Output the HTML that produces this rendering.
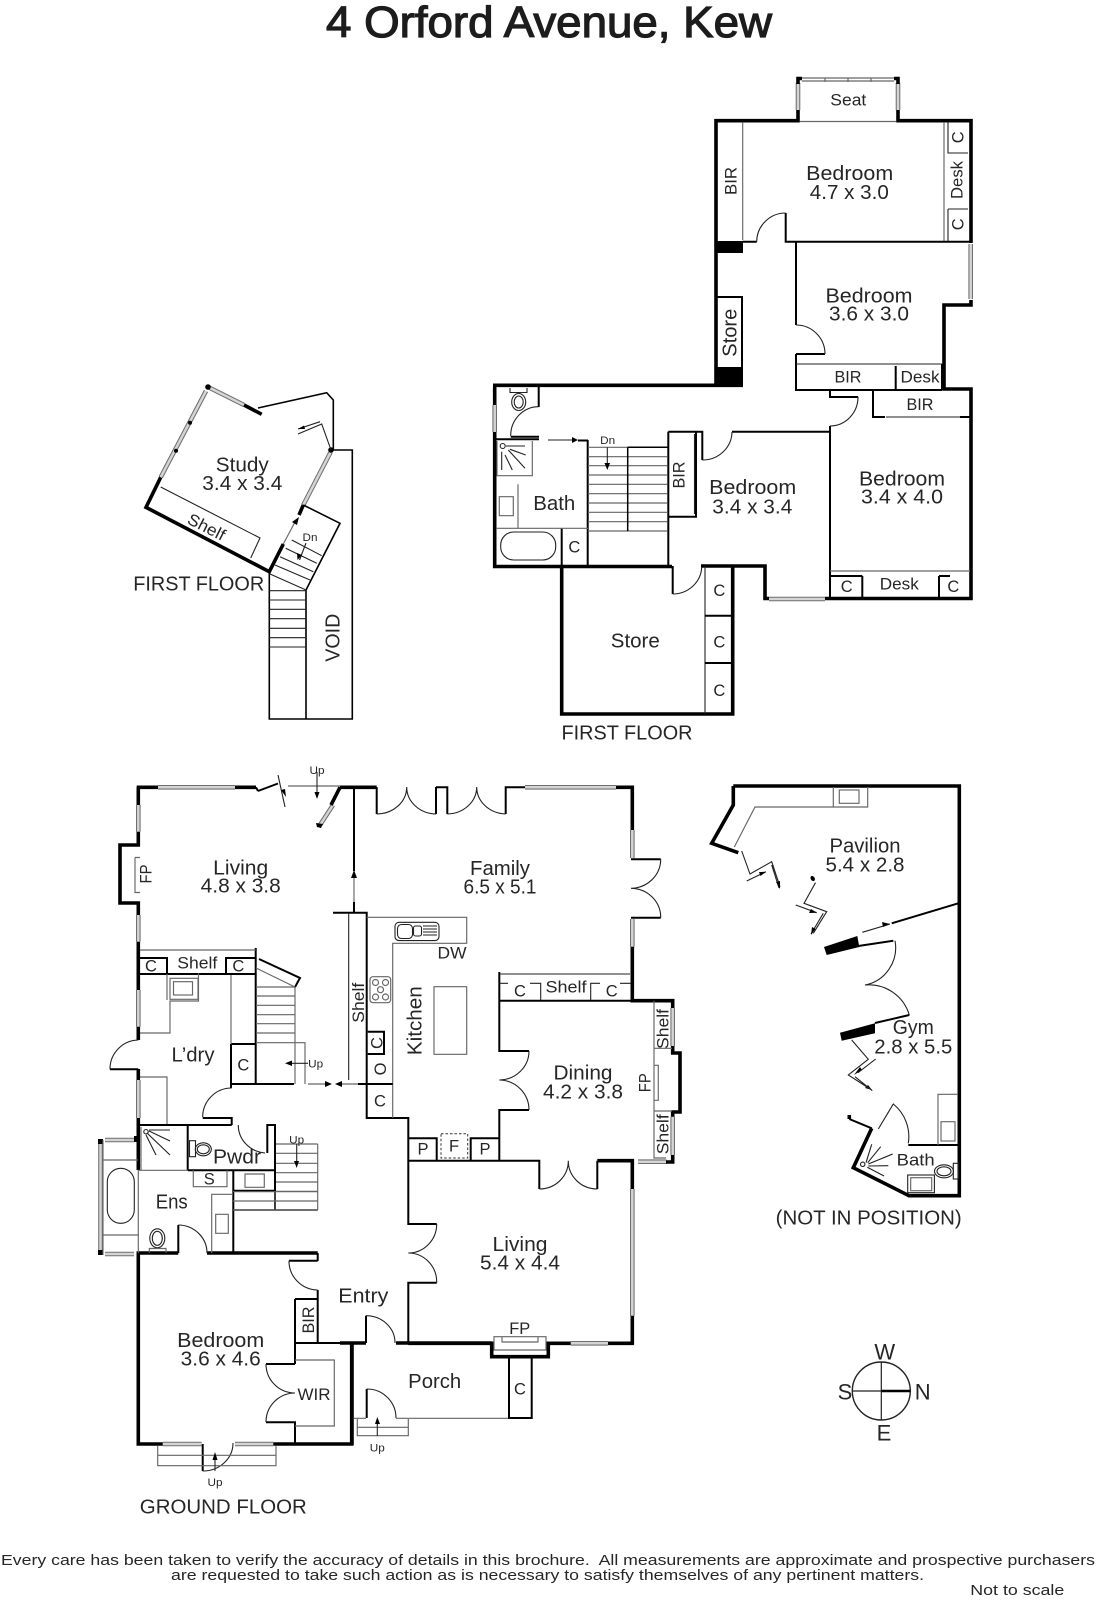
<!DOCTYPE html>
<html><head><meta charset="utf-8"><title>4 Orford Avenue, Kew</title>
<style>
html,body{margin:0;padding:0;background:#fff}
svg{display:block}
text{font-family:"Liberation Sans",sans-serif;fill:#262626;text-anchor:middle}
.w{fill:none;stroke:#000;stroke-width:3.6;stroke-linejoin:miter}
.m{fill:none;stroke:#000;stroke-width:2}
.t{fill:none;stroke:#222;stroke-width:1.1}
.g{fill:none;stroke:#666;stroke-width:1.15}
.l{font-size:20px}.s{font-size:16.5px}.x{font-size:11px}
</style></head><body>
<svg width="1096" height="1600" viewBox="0 0 1096 1600" xmlns="http://www.w3.org/2000/svg">
<defs>
<path id="wn" d="M798,110V83M898,110V83M970.7,244V299M494.7,405V432M769,599H825
M208,387L244,405M206,391L160.7,477.3M303.3,505L330.7,452
M158,787.3H235M138.3,805V831.7M138.3,915V941.7M138.3,990V1026.7M138.3,1080V1118M333,805L320,825
M525,787.3H616M632.3,830V858M632.3,919V946.7M672.7,1008V1046M672.7,1116.7V1155M638,1161.7H666.7
M632.3,1189V1315.7M570.7,1343.3H608M162.7,1444H201.7M235,1444H273.3M105,1140H134M105,1254H134M100.5,1142V1252"/>
</defs>
<rect width="1096" height="1600" fill="#fff"/>
<use href="#wn" fill="none" stroke="#6f6f6f" stroke-width="4.6"/>
<use href="#wn" fill="none" stroke="#d4d4d4" stroke-width="2.5"/>

<!-- TITLE -->
<text x="549" y="37" font-size="44" textLength="446" lengthAdjust="spacingAndGlyphs" style="fill:#1c1c1c;stroke:#1c1c1c;stroke-width:1.2">4 Orford Avenue, Kew</text>

<!-- UPPER FIRST FLOOR -->
<path class="w" d="M493,385.3H743M716,385V120.7H798V110M798,84V78.500H802M894,78.500H898V84M898,110V120.700H971V243M971,300V305H944V389H971V598.500H825M769,598.500H765V566H732.700V714H561.700V566.500H494.700V432M494.700,405V387M561.700,566.500H672M701,566H732"/>
<path d="M716,241H743V253H716ZM716,367H743V387H716Z" fill="#000"/>
<path class="g" d="M802,78H894M802,81H894M825,78V82M848,78V82M871,78V82M800,121.500H896M944,122V241M742.700,122V240"/>
<path class="m" d="M742.700,241.700H756.700M785.700,213V241.700H971M796,241.700V325M796,354H825M796,354V390H942M716,297H742V367M895.700,366V390M942,364V390M873,390V417H885M960,417H970M830,390V397H858M732,431.700H830M830,426V599M668.300,431.700V566M668.300,431.700H702.300V460M668.300,516.700H696V431.700M672.700,566V594"/>
<path class="t" d="M796,364H942M886,417H960M948,122V153H968M948,209V241M948,209H968M785.700,213A29,29 0 0 0 756.700,241.700M796,325A29,29 0 0 1 825,354M858,396.700A28,29 0 0 1 830,426M702.300,460A29.500,28.500 0 0 0 732,432M672.700,594A29,28 0 0 0 701.700,567M705,566V714M694.500,434V514"/>
<path class="m" d="M705,615.700H732M705,663H732M830,576H850M862.300,576V598M850,576H862.300M939,576V598M939,576H950"/>
<path class="g" d="M830,571H970"/>
<!-- bath -->
<path class="m" d="M538.700,386V407M494.700,439.300H539M510.700,436.700H539M578,440.500H588M587.700,440V566M561.700,528V566"/>
<path class="t" d="M538.700,406.700A28,29 0 0 0 510.700,436M548,440H572M510,388V392.500H527V388"/>
<ellipse cx="518.700" cy="402" rx="7" ry="8.500" class="t"/><ellipse cx="518.700" cy="402" rx="4.500" ry="6" class="t"/>
<path d="M578,440L572,437V443Z" fill="#000"/>
<path class="g" d="M497,441V475.700H532.300V441M499.300,496.700V515.700H513.300V496.700ZM518,484.300V528.300M496,528.300H588"/>
<path class="t" d="M501.700,451.700V470M505,455L512.300,470M508.300,450L525,468.300M510,449.300L525.700,455M506,446H525"/>
<circle cx="502.700" cy="446" r="2.500" class="t" style="fill:#fff"/>
<rect x="500.700" y="532" width="55" height="28" rx="13" class="t"/>
<!-- stairs -->
<path class="g" d="M588,447.300H667.700M588,456.700H667.700M588,465.700H667.700M588,475H667.700M588,484.300H667.700M588,493.700H667.700M588,503H667.700M588,512.300H667.700M588,521.700H667.700M588,531H667.700"/>
<path class="m" style="stroke-width:1.500" d="M627.700,447.300V531M627.700,447.300H668"/>
<path class="t" d="M607.300,447.300V466"/><path d="M607.300,470L604.500,463H610Z" fill="#000"/>

<text class="s" x="848.300" y="105.700" textLength="36" lengthAdjust="spacingAndGlyphs">Seat</text>
<text class="l" x="849.700" y="180" textLength="87" lengthAdjust="spacingAndGlyphs">Bedroom</text>
<text class="l" x="849.300" y="199" textLength="79" lengthAdjust="spacingAndGlyphs">4.7 x 3.0</text>
<text class="s" transform="translate(736.300,181) rotate(-90)" textLength="28" lengthAdjust="spacingAndGlyphs">BIR</text>
<text class="s" transform="translate(963.700,137.300) rotate(-90)">C</text>
<text class="s" transform="translate(962.300,180) rotate(-90)" textLength="38" lengthAdjust="spacingAndGlyphs">Desk</text>
<text class="s" transform="translate(963.700,224.300) rotate(-90)">C</text>
<text class="l" x="869" y="302.300" textLength="87" lengthAdjust="spacingAndGlyphs">Bedroom</text>
<text class="l" x="869" y="320.700" textLength="80" lengthAdjust="spacingAndGlyphs">3.6 x 3.0</text>
<text class="l" transform="translate(736.300,332.700) rotate(-90)" textLength="48" lengthAdjust="spacingAndGlyphs">Store</text>
<text class="s" x="848" y="382.700" textLength="27" lengthAdjust="spacingAndGlyphs">BIR</text>
<text class="s" x="920" y="382.700" textLength="39" lengthAdjust="spacingAndGlyphs">Desk</text>
<text class="s" x="920" y="410" textLength="27" lengthAdjust="spacingAndGlyphs">BIR</text>
<text class="x" x="607.700" y="444" textLength="15" lengthAdjust="spacingAndGlyphs">Dn</text>
<text class="s" transform="translate(684.300,475) rotate(-90)" textLength="27" lengthAdjust="spacingAndGlyphs">BIR</text>
<text class="l" x="554.300" y="510" textLength="42" lengthAdjust="spacingAndGlyphs">Bath</text>
<text class="s" x="574.300" y="552.700">C</text>
<text class="l" x="752.700" y="494" textLength="87" lengthAdjust="spacingAndGlyphs">Bedroom</text>
<text class="l" x="752.300" y="513.300" textLength="80" lengthAdjust="spacingAndGlyphs">3.4 x 3.4</text>
<text class="l" x="902" y="485.700" textLength="86" lengthAdjust="spacingAndGlyphs">Bedroom</text>
<text class="l" x="902" y="503.300" textLength="82" lengthAdjust="spacingAndGlyphs">3.4 x 4.0</text>
<text class="s" x="846.700" y="592">C</text>
<text class="s" x="899.300" y="589.300" textLength="39" lengthAdjust="spacingAndGlyphs">Desk</text>
<text class="s" x="953.300" y="592">C</text>
<text class="s" x="719.300" y="596">C</text><text class="s" x="719.300" y="647.300">C</text><text class="s" x="719.300" y="696">C</text>
<text class="l" x="635.300" y="647.300" textLength="49" lengthAdjust="spacingAndGlyphs">Store</text>
<text class="l" x="627" y="739.300" textLength="131" lengthAdjust="spacingAndGlyphs">FIRST FLOOR</text>

<!-- STUDY -->
<path class="w" d="M244,405L261.700,414.300M160.700,477.300L146,507.300L269.300,571.700L283.300,544M299,515L303.300,505"/>
<path class="m" style="stroke-width:1.600" d="M258,408L326.700,392.700L333.300,400V450H352.300V719H269.300V572M306,590V719H269.300M303.300,505L340,523.300L306,590"/>
<circle cx="208" cy="387" r="2.800" fill="#000"/><circle cx="190" cy="422.700" r="2" fill="#000"/><circle cx="176" cy="450.700" r="2" fill="#000"/><circle cx="331" cy="450" r="2.800" fill="#000"/>
<path class="t" d="M160.700,487L260,538L250.700,558M291.700,540L321.700,555.700M285.700,548.300L316.700,563.300M280,556.700L313.300,571.700M275,565L310,580M270,574L306,590M269,590.700H306M269,600H306M269,609.300H306M269,618.700H306M269,628.300H306M269,637.700H306M269,647H306"/>
<path class="g" d="M283.300,544L295,522"/><path d="M299,517L297,525L292,522Z" fill="#000"/>
<path class="t" d="M306,543L299.500,560M331,450L321.700,424L298,434M320,421.700L298,429"/><path d="M298,429L304,425.500L305,429Z" fill="#000"/><path d="M297.500,560L297,553L302,555Z" fill="#000"/>
<text class="l" x="242.300" y="471.700" textLength="53" lengthAdjust="spacingAndGlyphs">Study</text>
<text class="l" x="242.300" y="490" textLength="80" lengthAdjust="spacingAndGlyphs">3.4 x 3.4</text>
<text class="s" transform="translate(204,532) rotate(27)" textLength="40" lengthAdjust="spacingAndGlyphs">Shelf</text>
<text class="x" x="310" y="541" textLength="15" lengthAdjust="spacingAndGlyphs">Dn</text>
<text class="l" x="198.700" y="590.700" textLength="131" lengthAdjust="spacingAndGlyphs">FIRST FLOOR</text>
<text class="l" transform="translate(339.300,637.700) rotate(-90)" textLength="48" lengthAdjust="spacingAndGlyphs">VOID</text>

<!-- GROUND FLOOR WALLS -->
<path class="w" d="M158,787.300H136.700M235,787.300H256M138.300,787.300V805M138.300,831.700V845H120V903H138.300V915M138.300,941.700V990M138.300,1026.700V1040M138.300,1069V1080M138.300,1118V1170M178.300,1253H138.300V1444H162.700M273.300,1444H351.700V1343M340,787.300H376.700M340,787.300L331,805M616,787.300H632.300V830M632.300,946.700V1000.700H672.700V1008M672.700,1046V1053H680V1112H672.700V1116.700M672.700,1155V1162H666M408.300,1343.300H491.700V1356.700H548.300V1343.300H570.700M608,1343.300H632.300V1315.700M632.300,1189V1160.700H597.300M352,1343V1445M340,1343H366M396,1343H491.700M207,1253H317.700"/>
<path class="m" d="M354,787V871M354,902V912.700M333,912.700H366.700V1118H408.300V1224H436.700M436.700,1282.700H408.300V1343M376.700,787V814M436,787V814M436,787.300H447.300V814M505.700,814V787.300H525M631,859.300H660.700M631,917.700H660.700M499.300,972V1051H529M529,1110H499.300V1161M408.300,1160.700H539.300V1189M597.300,1189V1160.700M499.300,1000.700H674M138,974H255.700M255.700,948V1084M231,1044H255.700M231,1044V1084M231,1084H294M358,1084H393M231,1084V1088M202.700,1118H231.700V1125M138,1125H231.700M187.700,1125V1170.300M187.700,1170.300H275V1125H267.300V1153M275,1170V1190.700H233.300M233.300,1170V1253M178.300,1253V1225M317.700,1253V1261M289,1260.700H317.700M317.700,1290V1343M295,1299H317.700M295,1299V1364M295,1343H366M366,1343V1315.700M266,1364H295M266,1422.300H295V1444M366.700,1389V1418M202.700,1444V1471M509,1357V1418H531.700V1357M110,1069.300H138.300"/>
<path class="g" d="M138.300,1170.300H187.700"/>
<path class="m" style="stroke-width:1.500" d="M233.300,1210H317.700M275,1190V1210"/>
<path d="M98,1139H103V1144H98ZM98,1250H103V1255H98ZM134,1136H139V1142H134Z" fill="#000"/>

<path class="t" d="M376.700,814A30,27 0 0 0 406.700,787A30,27 0 0 0 436,814M447.300,814A30,27 0 0 0 476.700,787A30,27 0 0 0 505.700,814M660.700,859.300A30,29 0 0 1 631,888.300A30,29 0 0 1 660.700,917.700M529,1051A30,29 0 0 1 499.300,1080A30,30 0 0 1 529,1110M539.300,1189A29,28 0 0 0 568.300,1160.700A29,28 0 0 0 597.300,1189M436.700,1224A28.500,29 0 0 1 408.300,1253A28.500,29 0 0 1 436.700,1282.700M138.300,1040A29,29 0 0 0 110,1069.300M231.700,1088A29,29 0 0 0 202.700,1117M238.300,1125A29,28 0 0 0 265,1153M178.300,1225A29,28 0 0 1 207,1253M289,1260.700A29,29 0 0 0 317.700,1290M266,1364A29,29 0 0 0 295,1393A29,29 0 0 0 266,1422M202.700,1471A30,28 0 0 0 233,1443M366,1315.700A29,27 0 0 1 395,1343M366.700,1389A29,29 0 0 1 396,1418"/>

<!-- living top -->
<path class="m" d="M256,787.300L258,791M258,791L278,783.500"/>
<path class="t" d="M278,775L285,807"/><path class="g" d="M288,786H340M354,875V902"/>
<path d="M286,797L281,790L285,789Z" fill="#000"/>
<path class="t" d="M317,772V796"/><path d="M317,799L314.500,792H319.500Z" fill="#000"/>
<path d="M354,870L351,878H357Z" fill="#000"/>
<path d="M316,823L323,824L321,828L317,827Z" fill="#000"/>
<!-- FP -->
<path class="g" d="M135,857.500V892.500H140M135,857.500H140"/>
<!-- shelf row -->
<path class="g" d="M140,950H255.700M167,974V1000"/>
<path class="m" d="M140,958H167V974M226,974V958H255"/>
<path class="g" d="M198,974H198.500V1001H170V1033H140M140,1077H167V1124M231,975V1044"/>
<rect x="170" y="978.300" width="28" height="21" class="g"/><rect x="173.500" y="981.700" width="19" height="13.300" class="g"/>
<!-- stairs living -->
<path class="m" d="M259,959L300,978L295,987"/>
<path class="g" d="M256,968L295,987M256,987H295M256,996H295M256,1005.300H295M256,1014.700H295M256,1023.700H295M256,1033H295M256,1042.700H305V1084M295,987V1084"/>
<path class="t" d="M308,1063.300H289"/><path d="M285,1063.300L292,1060.500V1066Z" fill="#000"/>
<!-- arrows -->
<path class="g" d="M308,1084H326M340,1084H358"/>
<path d="M332,1084L325,1081V1087ZM335,1084L342,1081V1087Z" fill="#000"/>
<!-- shelf long -->
<path class="t" d="M348.700,913V1080"/>
<!-- kitchen -->
<path class="g" d="M366.700,917.300H466.700V943.300H392.700V1118M434,986.700H466.700V1054.300H434Z"/>
<rect x="395" y="922.300" width="44" height="18.300" rx="4" class="t"/><rect x="397.500" y="924.500" width="15" height="14" rx="4" class="t"/><rect x="413.500" y="926" width="8" height="10" rx="2" class="t"/>
<path class="t" d="M423,926H437M423,929H437M423,932H437M423,935H437"/>
<rect x="370" y="976.700" width="20.700" height="26" rx="3" class="g"/>
<circle cx="375.500" cy="982.500" r="3" class="g"/><circle cx="385.500" cy="982.500" r="3" class="g"/><circle cx="380.500" cy="989.700" r="3" class="g"/><circle cx="375.500" cy="997" r="3" class="g"/><circle cx="385.500" cy="997" r="3" class="g"/>
<path class="m" d="M367.700,1031.700H384V1054H367.700M366.700,1084H392.700"/>
<path class="m" d="M408.300,1138.300H436.700V1160M470.700,1160V1138.300H499.300"/>
<rect x="441" y="1133.700" width="26.700" height="24.300" fill="none" stroke="#333" stroke-width="1" stroke-dasharray="2.500,2"/>
<path class="t" d="M500,974H630M500,983.300H508M530,983.300H540.700V1000M590.700,1000V983.300H600M620,983.300H631"/>
<!-- dining right -->
<path class="g" d="M654,1000.700V1158H666M654,1048.300H672M654,1111H672M654,1065.300H658.300V1100.300H654"/>
<!-- FP living 2 -->
<path class="g" d="M494,1343V1336.700H546V1350H494V1343M502,1336.700V1342H538V1336.700"/>
<path class="g" d="M396,1418.300H508M354,1418.300H366M357.300,1419V1435.700H408.300V1419M357.300,1427.300H408.300"/>
<path class="t" d="M377.300,1436V1420"/><path d="M377.300,1417L375,1424H380Z" fill="#000"/>
<!-- Front bedroom steps -->
<path class="g" d="M157.700,1446V1465.700H276V1446M157.700,1455.300H276M295,1360H334.300V1426H295"/>
<path class="t" d="M215,1471V1456"/><path d="M215,1452L212.500,1460H217.500Z" fill="#000"/>
<!-- ensuite -->
<path class="g" d="M103,1140V1255M103,1160H138M103,1235H138M138.300,1170.300V1253M193.300,1170.300V1186.700H227V1170.300M211.700,1253V1194.300H233M245,1174H264.300V1187.300H245ZM215.700,1214.300H228.300V1233.300H215.700Z"/>
<rect x="107.300" y="1168.300" width="27" height="55" rx="13.500" class="t"/>
<ellipse cx="157.300" cy="1238.300" rx="7.500" ry="9.500" class="t"/><ellipse cx="157.300" cy="1238.300" rx="5" ry="7" class="t"/>
<path class="g" d="M149.300,1252.700V1248.500H166V1252.700M141,1127V1170"/>
<circle cx="146" cy="1131.700" r="2.200" class="t"/>
<path class="t" d="M147,1133L170,1155M146,1135L156,1155M149,1131L170,1141M149,1130H170"/>
<rect x="189.500" y="1140.700" width="6" height="16" class="t"/>
<ellipse cx="203.300" cy="1149.300" rx="8" ry="6.500" class="t"/><ellipse cx="203.300" cy="1149.300" rx="6" ry="4.500" class="t"/>
<!-- stairs pwdr -->
<path class="g" d="M276,1144H317.700M276,1153.300H317.700M276,1163.300H317.700M276,1172.700H317.700M276,1182H317.700M276,1191.300H317.700M233,1191.700H317.700M233,1201H317.700M233,1210H317.700M317.700,1144V1210"/>
<path class="t" d="M296.700,1144V1164"/><path d="M296.700,1168L294,1161H299Z" fill="#000"/>

<!-- ground labels -->
<text class="x" x="317" y="774" textLength="15" lengthAdjust="spacingAndGlyphs">Up</text>
<text class="l" x="240.700" y="874.300" textLength="55" lengthAdjust="spacingAndGlyphs">Living</text>
<text class="l" x="240.700" y="892.700" textLength="80" lengthAdjust="spacingAndGlyphs">4.8 x 3.8</text>
<text class="s" transform="translate(151.700,874) rotate(-90)" textLength="19" lengthAdjust="spacingAndGlyphs">FP</text>
<text class="s" x="151" y="971.700">C</text>
<text class="s" x="197.300" y="968.300" textLength="40" lengthAdjust="spacingAndGlyphs">Shelf</text>
<text class="s" x="238.300" y="971.700">C</text>
<text class="l" x="193" y="1061.700" textLength="43" lengthAdjust="spacingAndGlyphs">L’dry</text>
<text class="s" x="243.300" y="1070.700">C</text>
<text class="x" x="315.700" y="1067.300" textLength="15" lengthAdjust="spacingAndGlyphs">Up</text>
<text class="s" transform="translate(364,1002.700) rotate(-90)" textLength="40" lengthAdjust="spacingAndGlyphs">Shelf</text>
<text class="s" transform="translate(382.700,1043) rotate(-90)">C</text>
<text class="s" transform="translate(386,1069) rotate(-90)">O</text>
<text class="s" x="380" y="1106.700">C</text>
<text class="l" x="500" y="875" textLength="60" lengthAdjust="spacingAndGlyphs">Family</text>
<text class="l" x="500" y="893.300" textLength="73" lengthAdjust="spacingAndGlyphs">6.5 x 5.1</text>
<text class="s" x="452" y="958.300" textLength="29" lengthAdjust="spacingAndGlyphs">DW</text>
<text class="l" transform="translate(421.700,1020.700) rotate(-90)" textLength="69" lengthAdjust="spacingAndGlyphs">Kitchen</text>
<text class="s" x="566" y="992.700" textLength="41" lengthAdjust="spacingAndGlyphs">Shelf</text>
<text class="s" x="520" y="996.700">C</text>
<text class="s" x="611.700" y="996.700">C</text>
<text class="l" x="583" y="1079.300" textLength="59" lengthAdjust="spacingAndGlyphs">Dining</text>
<text class="l" x="583" y="1098.300" textLength="80" lengthAdjust="spacingAndGlyphs">4.2 x 3.8</text>
<text class="s" transform="translate(650.700,1082.700) rotate(-90)" textLength="19" lengthAdjust="spacingAndGlyphs">FP</text>
<text class="s" transform="translate(668.300,1029) rotate(-90)" textLength="40" lengthAdjust="spacingAndGlyphs">Shelf</text>
<text class="s" transform="translate(668.300,1134.300) rotate(-90)" textLength="40" lengthAdjust="spacingAndGlyphs">Shelf</text>
<text class="s" x="423" y="1154.300">P</text>
<text class="s" x="454" y="1151.700">F</text>
<text class="s" x="485" y="1154.300">P</text>
<text class="l" x="237" y="1163.300" textLength="48" lengthAdjust="spacingAndGlyphs">Pwdr</text>
<text class="s" x="209.300" y="1184.300">S</text>
<text class="x" x="296.700" y="1143.300" textLength="15" lengthAdjust="spacingAndGlyphs">Up</text>
<text class="l" x="171.700" y="1208.700" textLength="32" lengthAdjust="spacingAndGlyphs">Ens</text>
<text class="l" x="520" y="1251" textLength="55" lengthAdjust="spacingAndGlyphs">Living</text>
<text class="l" x="520" y="1269.300" textLength="80" lengthAdjust="spacingAndGlyphs">5.4 x 4.4</text>
<text class="l" x="363.300" y="1302.300" textLength="50" lengthAdjust="spacingAndGlyphs">Entry</text>
<text class="s" transform="translate(314,1320) rotate(-90)" textLength="27" lengthAdjust="spacingAndGlyphs">BIR</text>
<text class="l" x="220.700" y="1347" textLength="87" lengthAdjust="spacingAndGlyphs">Bedroom</text>
<text class="l" x="220.700" y="1365.300" textLength="80" lengthAdjust="spacingAndGlyphs">3.6 x 4.6</text>
<text class="s" x="314" y="1400" textLength="33" lengthAdjust="spacingAndGlyphs">WIR</text>
<text class="s" x="519.700" y="1334" textLength="21" lengthAdjust="spacingAndGlyphs">FP</text>
<text class="l" x="434.700" y="1388" textLength="53" lengthAdjust="spacingAndGlyphs">Porch</text>
<text class="s" x="520" y="1394.300">C</text>
<text class="x" x="377.300" y="1451.700" textLength="15" lengthAdjust="spacingAndGlyphs">Up</text>
<text class="x" x="215" y="1486" textLength="15" lengthAdjust="spacingAndGlyphs">Up</text>
<text class="l" x="223.300" y="1513.300" textLength="167" lengthAdjust="spacingAndGlyphs">GROUND FLOOR</text>

<!-- PAVILION / GYM -->
<path class="w" d="M733.300,786H959.300V1195.700H909L853.300,1167.700L871.700,1128.300M733.300,786V805L711.700,843.300L738.300,852.700M849.300,1119V1115"/>
<path class="m" d="M958.300,903.300L891.700,923.300M858.300,946L893.300,940.700M909.300,1015L875,1023M871.700,1128.300L849.300,1119M908.300,1145H959"/>
<path d="M824,947L857.300,936L859.300,947L826.700,955ZM840,1032.700L875,1023.300V1033.300L841.700,1040.700Z" fill="#000"/>
<path class="g" d="M833.300,807H755L734.300,847M833.300,787V807M867.700,787V807H833M938,1145V1094.300H958"/>
<path class="t" d="M741.700,851L750,874L771.700,861.700L780,886.700M746.700,881L766,871.700M771.700,865L779,888M815.500,882.700L804,903.300L826.700,911.700L813.300,933.300M795.700,905L816.700,912.700M823.300,913.300L811,934M862.300,932.300L890,924"/>
<rect x="839.300" y="790" width="19.700" height="13.300" class="g"/>
<ellipse cx="812.700" cy="878.500" rx="2" ry="2.800" fill="#000" transform="rotate(-30 812.700 878.500)"/>
<path d="M766,871.700L759,872L760.500,876ZM780,889L776,882L780,881ZM816.700,912.700L809,913L811,909ZM811,935L812,927L815.500,929ZM890,924L882,922L883,927ZM854,1075L860,1067L862,1070ZM872,1090L865,1088L868,1085Z" fill="#000"/>
<path class="t" d="M851.700,1040L868.300,1059.300L848.300,1075L871.700,1090M875.700,1059L858,1072.700M855,1076.700L872.300,1090.700"/>
<path class="t" d="M895,940.700A38,38 0 0 1 865,985A42,42 0 0 1 909.300,1015M878.300,1129L893.300,1104A42,42 0 0 1 908.300,1143.300"/>
<path class="t" d="M866,1162.700L871.700,1144.300M867.700,1162.700L880.700,1146.700M868.300,1164L892.700,1154M868.300,1166L888.300,1165.700M867.300,1167.300L884,1176"/>
<circle cx="862.700" cy="1164.300" r="2.200" class="t"/>
<rect x="907.700" y="1175" width="26.700" height="17.700" class="t"/><rect x="910.700" y="1177.700" width="21" height="13" class="g"/>
<ellipse cx="944" cy="1171.300" rx="9.500" ry="6.500" class="t"/><ellipse cx="944" cy="1171.300" rx="7" ry="4.500" class="t"/>
<rect x="953.300" y="1163.300" width="5" height="15.700" class="t"/>
<rect x="941" y="1121.700" width="14" height="19.300" class="g"/>
<text class="l" x="865" y="852.300" textLength="71" lengthAdjust="spacingAndGlyphs">Pavilion</text>
<text class="l" x="865" y="871.700" textLength="79" lengthAdjust="spacingAndGlyphs">5.4 x 2.8</text>
<text class="l" x="913.300" y="1034" textLength="41" lengthAdjust="spacingAndGlyphs">Gym</text>
<text class="l" x="913.300" y="1053.300" textLength="78" lengthAdjust="spacingAndGlyphs">2.8 x 5.5</text>
<text class="s" x="915.700" y="1165.700" textLength="38" lengthAdjust="spacingAndGlyphs">Bath</text>
<text class="l" x="868.700" y="1224.300" textLength="186" lengthAdjust="spacingAndGlyphs">(NOT IN POSITION)</text>

<!-- COMPASS -->
<circle cx="881.300" cy="1391" r="29" class="t" style="stroke-width:1.400"/>
<path class="t" style="stroke-width:1.200" d="M881.300,1362V1420M852.300,1391H881.300"/>
<path d="M881.300,1389.700H910.300V1392.300H881.300Z" fill="#000"/>
<text font-size="22" x="884.700" y="1359.300">W</text>
<text font-size="22" x="845" y="1399.300">S</text>
<text font-size="22" x="922.700" y="1399.300">N</text>
<text font-size="22" x="884" y="1440.700">E</text>

<!-- FOOTER -->
<text font-size="15" x="548" y="1565" textLength="1094" lengthAdjust="spacingAndGlyphs" style="white-space:pre">Every care has been taken to verify the accuracy of details in this brochure.  All measurements are approximate and prospective purchasers</text>
<text font-size="15" x="547.500" y="1580" textLength="753" lengthAdjust="spacingAndGlyphs">are requested to take such action as is necessary to satisfy themselves of any pertinent matters.</text>
<text font-size="15" x="1017.300" y="1595" textLength="94" lengthAdjust="spacingAndGlyphs">Not to scale</text>
</svg>
</body></html>
